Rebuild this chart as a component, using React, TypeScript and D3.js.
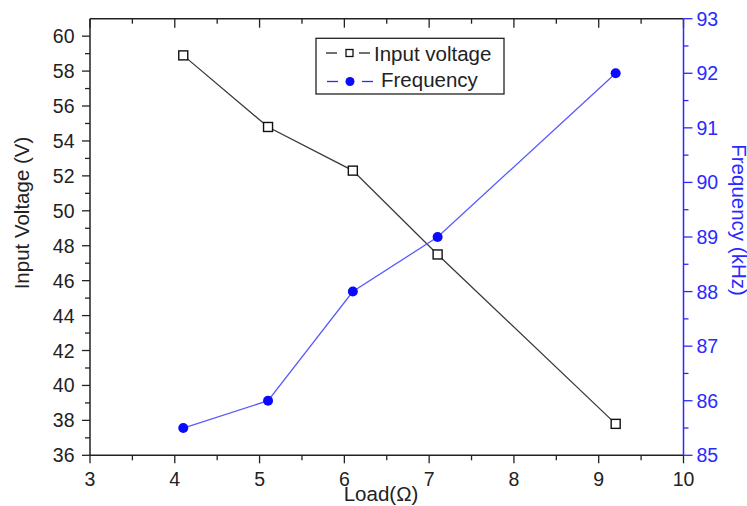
import React from "react";
import * as d3 from "d3";

const loads = [4.1, 5.1, 6.1, 7.1, 9.2];
const inputVoltage = [58.9, 54.8, 52.3, 47.5, 37.8];
const frequency = [85.5, 86.0, 88.0, 89.0, 92.0];
const xTicks = [3, 4, 5, 6, 7, 8, 9, 10];
const yLeftTicks = [36, 38, 40, 42, 44, 46, 48, 50, 52, 54, 56, 58, 60];
const yRightTicks = [85, 86, 87, 88, 89, 90, 91, 92, 93];

const W = 747;
const H = 506;
const L = 90, R = 683.5, T = 18.7, B = 455.3;
const FONT = "'Liberation Sans', Arial, sans-serif";
const BLUE = "#2a2aff";
const TICK_FS = 19.5;
const TITLE_FS = 20.5;

export default function App() {
  const x = d3.scaleLinear().domain([3, 10]).range([L, R]);
  const yL = d3.scaleLinear().domain([36, 61]).range([B, T]);
  const yR = d3.scaleLinear().domain([85, 93]).range([B, T]);

  const lineV = d3.line<number>().x((_, i) => x(loads[i])).y((d) => yL(d));
  const lineF = d3.line<number>().x((_, i) => x(loads[i])).y((d) => yR(d));

  const xMinor = d3.range(3.5, 10, 1);
  const yLMinor = d3.range(37, 61, 2);
  const yRMinor = d3.range(85.5, 93, 1);

  return (
    <svg width={W} height={H} style={{ position: "absolute", left: 0, top: 0, background: "#fff" }}>
      <rect x={0} y={0} width={W} height={H} fill="#fff" />
      <line x1={L} x2={R} y1={T} y2={T} stroke="#222" strokeWidth={1.5} />
      <line x1={L} x2={R} y1={B} y2={B} stroke="#222" strokeWidth={1.5} />
      <line x1={L} x2={L} y1={T} y2={B} stroke="#222" strokeWidth={1.5} />
      {xTicks.map((t) => (
        <g key={"xb" + t}>
          <line x1={x(t)} x2={x(t)} y1={B} y2={B + 8} stroke="#222" strokeWidth={1.3} />
          <line x1={x(t)} x2={x(t)} y1={T} y2={T + 9} stroke="#222" strokeWidth={1.3} />
          <text x={x(t)} y={B + 30.7} textAnchor="middle" fontFamily={FONT} fontSize={TICK_FS} fill="#222">
            {t}
          </text>
        </g>
      ))}
      {xMinor.map((t) => (
        <g key={"xm" + t}>
          <line x1={x(t)} x2={x(t)} y1={B} y2={B + 5} stroke="#222" strokeWidth={1.3} />
          <line x1={x(t)} x2={x(t)} y1={T} y2={T + 5} stroke="#222" strokeWidth={1.3} />
        </g>
      ))}
      {yLeftTicks.map((t) => (
        <g key={"yl" + t}>
          <line x1={L - 8} x2={L} y1={yL(t)} y2={yL(t)} stroke="#222" strokeWidth={1.3} />
          <text x={L - 15.5} y={yL(t) + 7} textAnchor="end" fontFamily={FONT} fontSize={TICK_FS} fill="#222">
            {t}
          </text>
        </g>
      ))}
      {yLMinor.map((t) => (
        <line key={"ylm" + t} x1={L - 5} x2={L} y1={yL(t)} y2={yL(t)} stroke="#222" strokeWidth={1.3} />
      ))}
      <line x1={R} x2={R} y1={T} y2={B} stroke={BLUE} strokeWidth={1.5} />
      {yRightTicks.map((t) => (
        <g key={"yr" + t}>
          <line x1={R} x2={R + 9} y1={yR(t)} y2={yR(t)} stroke={BLUE} strokeWidth={1.3} />
          <text x={R + 13} y={yR(t) + 7} textAnchor="start" fontFamily={FONT} fontSize={TICK_FS} fill={BLUE}>
            {t}
          </text>
        </g>
      ))}
      {yRMinor.map((t) => (
        <line key={"yrm" + t} x1={R} x2={R + 5} y1={yR(t)} y2={yR(t)} stroke={BLUE} strokeWidth={1.3} />
      ))}
      <text
        transform={`translate(29, 213) rotate(-90)`}
        textAnchor="middle"
        fontFamily={FONT}
        fontSize={TITLE_FS}
        fill="#222"
      >
        Input Voltage (V)
      </text>
      <text
        transform={`translate(732, 220) rotate(90)`}
        textAnchor="middle"
        fontFamily={FONT}
        fontSize={TITLE_FS}
        fill={BLUE}
      >
        Frequency (kHz)
      </text>
      <text x={381} y={501} textAnchor="middle" fontFamily={FONT} fontSize={TITLE_FS} fill="#222">
        Load(Ω)
      </text>
      <path d={lineV(inputVoltage) || ""} fill="none" stroke="#3a3a3a" strokeWidth={1.3} />
      <path d={lineF(frequency) || ""} fill="none" stroke="#5a5aff" strokeWidth={1.3} />
      {inputVoltage.map((v, i) => (
        <rect
          key={"sq" + i}
          x={x(loads[i]) - 4.5}
          y={yL(v) - 4.5}
          width={9}
          height={9}
          fill="#fff"
          stroke="#111"
          strokeWidth={1.4}
        />
      ))}
      {frequency.map((v, i) => (
        <circle key={"c" + i} cx={x(loads[i])} cy={yR(v)} r={5} fill="#0a0aff" />
      ))}
      <rect x={316} y={38.3} width={188} height={55.7} fill="#fff" stroke="#222" strokeWidth={1.3} />
      <line x1={326} x2={337} y1={53} y2={53} stroke="#222" strokeWidth={1.3} />
      <rect x={346} y={49.5} width={7} height={7} fill="#fff" stroke="#111" strokeWidth={1.3} />
      <line x1={359} x2={370} y1={53} y2={53} stroke="#222" strokeWidth={1.3} />
      <text x={374} y={60.7} fontFamily={FONT} fontSize={TITLE_FS} fill="#222">
        Input voltage
      </text>
      <line x1={327} x2={338} y1={81.5} y2={81.5} stroke={BLUE} strokeWidth={1.3} />
      <circle cx={350} cy={81.5} r={4.5} fill="#0a0aff" />
      <line x1={362} x2={373} y1={81.5} y2={81.5} stroke={BLUE} strokeWidth={1.3} />
      <text x={381} y={86.7} fontFamily={FONT} fontSize={TITLE_FS} fill="#222">
        Frequency
      </text>
    </svg>
  );
}
